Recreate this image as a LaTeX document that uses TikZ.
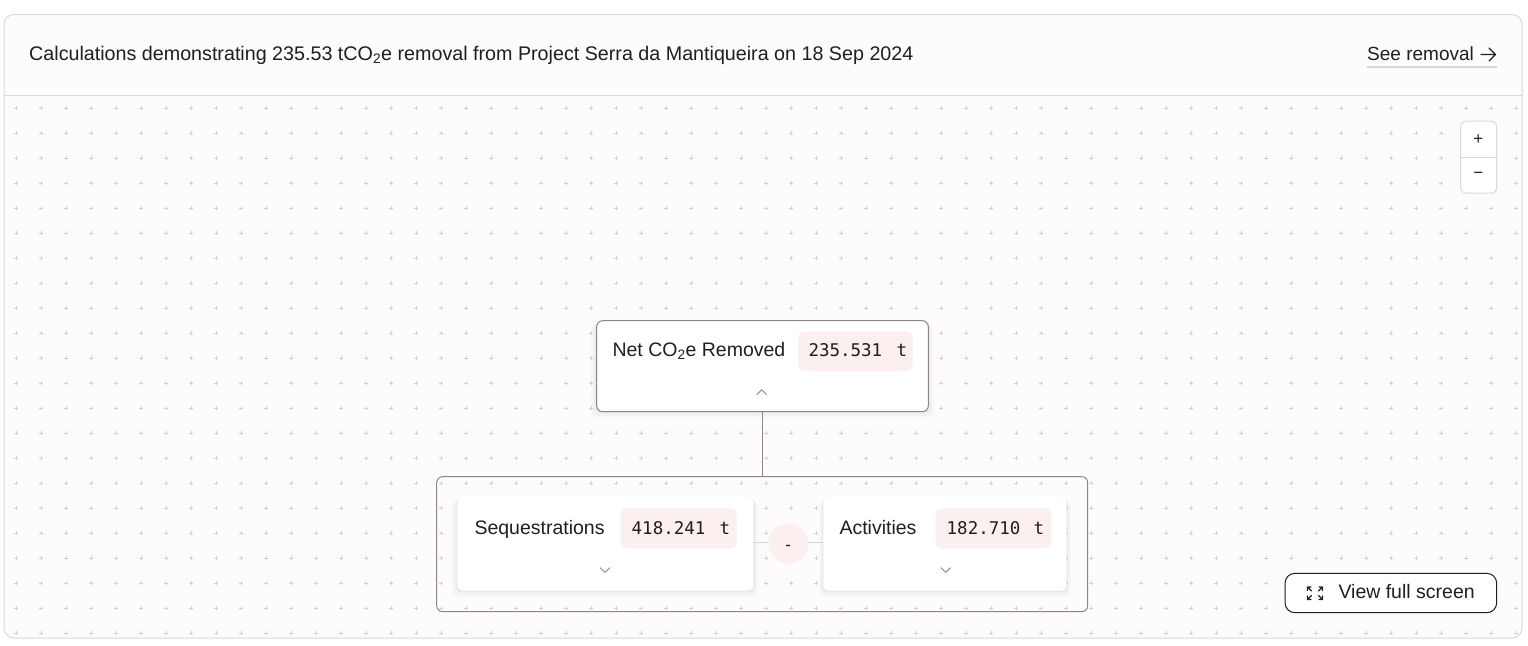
\documentclass[tikz,border=0pt]{standalone}
\usepackage{fontspec}
\setmainfont{Liberation Sans}
\newfontfamily\monofont{DejaVu Sans Mono}
\usetikzlibrary{shadows}
\definecolor{cardbg}{HTML}{FDFBFC}
\definecolor{cardline}{HTML}{DCD8DB}
\definecolor{dotcol}{HTML}{D6D0D3}
\definecolor{ink}{HTML}{1F1F1F}
\definecolor{nodeline}{HTML}{8C8689}
\definecolor{badgebg}{HTML}{FBEFF0}
\definecolor{linkcol}{HTML}{D9D3D6}
\definecolor{ulcol}{HTML}{D8D4D7}
\tikzset{
  softshadow/.style={
    drop shadow={shadow xshift=0pt, shadow yshift=-1pt, shadow scale=1.01, opacity=0.03, fill=black},
    drop shadow={shadow xshift=0pt, shadow yshift=-3pt, shadow scale=1.02, opacity=0.025, fill=black},
    drop shadow={shadow xshift=0pt, shadow yshift=-5pt, shadow scale=1.035, opacity=0.02, fill=black}},
  calcnode/.style={fill=white, rounded corners=6pt, inner sep=0pt, softshadow},
  badge/.style={fill=badgebg, rounded corners=6pt, inner sep=0pt},
  lbl/.style={anchor=base west, inner sep=0pt, text=ink, font=\fontsize{19.5}{23}\selectfont},
  num/.style={anchor=base west, inner sep=0pt, text=ink, font=\monofont\fontsize{17.5}{22}\selectfont},
  chev/.style={draw=nodeline, line width=0.9pt, line cap=round, line join=round},
  dotmark/.style={draw=dotcol, line width=0.55pt},
  iconline/.style={draw=ink, line width=1.2pt, line cap=round, line join=round},
}
\begin{document}
\begin{tikzpicture}[x=1pt, y=-1pt]
\useasboundingbox (0,0) rectangle (1528,645);
\fill[white] (0,0) rectangle (1528,645);
% card
\draw[draw=cardline, fill=cardbg, rounded corners=10pt, line width=1pt] (4,14.5) rectangle (1522,638);
\draw[cardline, line width=1pt] (4,95) -- (1522,95);
% dot grid
\foreach \i in {0,...,60} {
  \foreach \j in {0,...,21} {
    \draw[dotmark] (16+25*\i-1.6,108+25*\j) -- +(3.2,0) (16+25*\i,108+25*\j-1.6) -- +(0,3.2);
  }
}
% header
\node[anchor=base west, inner sep=0pt, text=ink, font=\fontsize{19.7}{23}\selectfont] (title) at (29,60.3)
  {Calculations demonstrating 235.53 tCO\textsubscript{2}e removal from Project Serra da Mantiqueira on 18 Sep 2024};
\node[anchor=base west, inner sep=0pt, text=ink, font=\fontsize{19}{23}\selectfont] (see) at (1367,60.7) {See removal};
\coordinate (arrowstart) at (1481,54.5);
\coordinate (arrowend) at (1495.5,54.5);
\draw[ink, line width=1.3pt, line cap=round, line join=round] (arrowstart) -- (arrowend)
  (1489,48) -- (arrowend) -- (1489,61);
\draw[ulcol, line width=2pt] (1367,66.7) -- (1497,66.7);
% zoom control
\node[draw=cardline, fill=white, rounded corners=5pt, minimum width=36pt, minimum height=72pt, inner sep=0pt, line width=1pt] (zoombox) at (1478.7,157.2) {};
\draw[cardline, line width=1pt] (zoombox.west |- 0,157.3) -- (zoombox.east |- 0,157.3);
\node[text=ink, inner sep=0pt, font=\fontsize{17}{18}\selectfont] (zplus) at (1478.3,140) {+};
\node[text=ink, inner sep=0pt, font=\fontsize{17}{18}\selectfont] (zminus) at (1478.3,175.5) {−};
% group box
\draw[nodeline, line width=1pt, rounded corners=6pt] (436.7,476.7) rectangle (1087.7,611.7);
\coordinate (grouptop) at (762.3,476.7);
% net node
\node[calcnode, draw=nodeline, line width=1pt, minimum width=331.6pt, minimum height=91pt] (net) at (762.5,366.2) {};
\node[badge, minimum width=114.4pt, minimum height=39.3pt] (netbadge) at (855.5,351.35) {};
\node[lbl] (netlbl) at (612.3,356.8) {Net CO\textsubscript{2}e Removed};
\node[num] (netnum) at (808.3,356.8) {235.531};
\node[num] (netunit) at (896.5,356.8) {t};
\draw[chev] (757,394.5) -- (761.7,389.8) -- (766.4,394.5);
% connector from net to group
\draw[nodeline, line width=1pt] (net.south -| grouptop) -- (grouptop);
% sequestrations node
\node[calcnode, minimum width=296pt, minimum height=93.4pt] (seq) at (605.3,544) {};
\node[badge, minimum width=115.7pt, minimum height=40pt] (seqbadge) at (678.85,528.3) {};
\node[lbl] (seqlbl) at (474.3,534) {Sequestrations};
\node[num] (seqnum) at (631.5,534) {418.241};
\node[num] (sequnit) at (719.5,534) {t};
\draw[chev] (600.3,567.7) -- (605,572.4) -- (609.7,567.7);
% activities node
\node[calcnode, minimum width=243.4pt, minimum height=93.4pt] (act) at (945,544) {};
\node[badge, minimum width=115.3pt, minimum height=40pt] (actbadge) at (993.35,528.3) {};
\node[lbl] (actlbl) at (839.3,534) {Activities};
\node[num] (actnum) at (946.5,534) {182.710};
\node[num] (actunit) at (1033.5,534) {t};
\draw[chev] (941,567.7) -- (945.7,572.4) -- (950.4,567.7);
% operator
\draw[linkcol, line width=1pt] (seq.east |- 0,542.7) -- (act.west |- 0,542.7);
\node[circle, fill=badgebg, minimum size=40pt, inner sep=0pt] (op) at (788.3,543.5) {};
\node[anchor=base, text=ink, inner sep=0pt, font=\fontsize{17}{20}\selectfont] (opsign) at (788.3,550) {-};
% view full screen button
\node[draw=ink, fill=white, rounded corners=10pt, minimum width=211.7pt, minimum height=39.4pt, inner sep=0pt, line width=1pt] (vfs) at (1390.85,593) {};
\node[anchor=base west, inner sep=0pt, text=ink, font=\fontsize{19.5}{22}\selectfont] (vfslbl) at (1338.3,598.2) {View full screen};
% expand icon: four outward corner arrows
\draw[iconline] (1307.5,590.5) -- (1307.5,587) -- (1311,587) (1307.8,587.3) -- (1311.5,591);
\draw[iconline] (1322.5,590.5) -- (1322.5,587) -- (1319,587) (1322.2,587.3) -- (1318.5,591);
\draw[iconline] (1307.5,596) -- (1307.5,599.5) -- (1311,599.5) (1307.8,599.2) -- (1311.5,595.5);
\draw[iconline] (1322.5,596) -- (1322.5,599.5) -- (1319,599.5) (1322.2,599.2) -- (1318.5,595.5);
\end{tikzpicture}
\end{document}
